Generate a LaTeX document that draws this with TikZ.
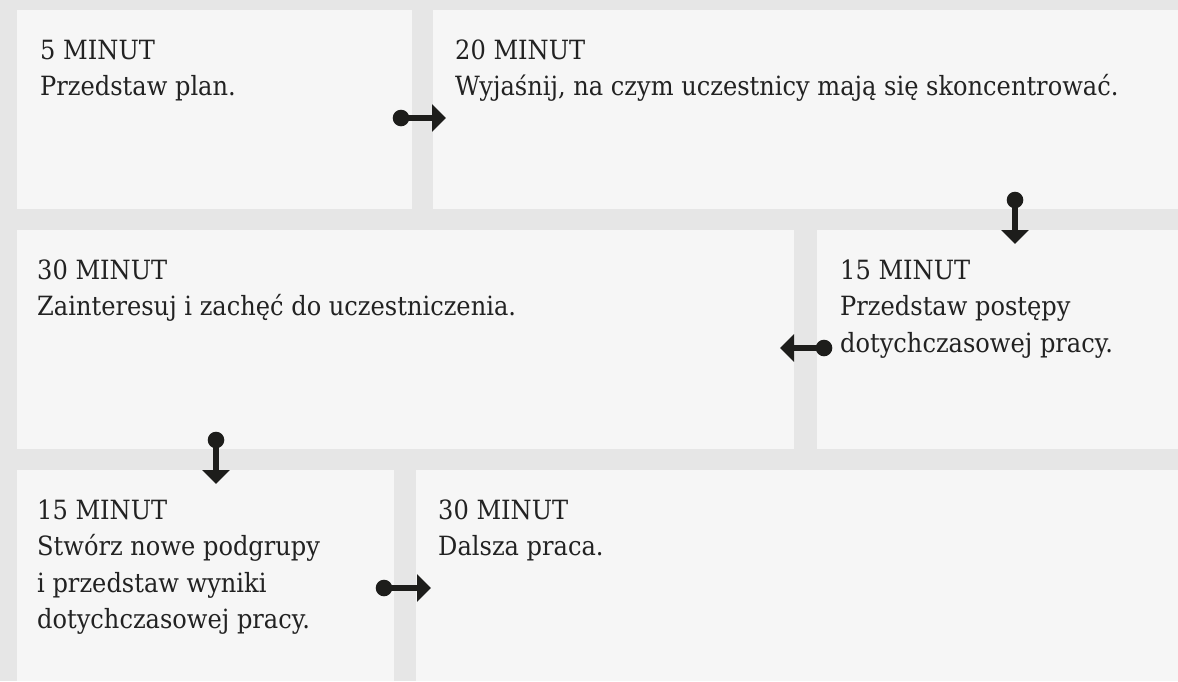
\documentclass[tikz,border=0pt]{standalone}
\usepackage{fontspec}
\setmainfont[FakeStretch=0.91]{DejaVu Serif}
\usetikzlibrary{arrows.meta}
\definecolor{bggray}{HTML}{E6E6E6}
\definecolor{boxfill}{HTML}{F6F6F6}
\definecolor{ink}{HTML}{1D1D1B}
\definecolor{textc}{HTML}{222222}
\begin{document}
\begin{tikzpicture}[x=1pt,y=-1pt,
  panel/.style={fill=boxfill, draw=none, inner sep=0pt, outer sep=0pt, anchor=north west},
  % multi-line labels sit on the baseline of their last line
  label/.style={anchor=base west, inner sep=0pt, align=left, text=textc,
                font=\fontsize{26.5}{36.5}\selectfont},
  flow/.style={draw=ink, line width=6pt, -{Triangle[length=14pt,width=27pt]}},
  dot/.style={fill=ink, radius=8.3pt}]

% canvas
\useasboundingbox (0,0) rectangle (1178,681);
\fill[bggray] (0,0) rectangle (1178,681);

% panels
\node[panel, minimum width=395pt, minimum height=199pt] (pA) at (17,10) {};
\node[panel, minimum width=745pt, minimum height=199pt] (pB) at (433,10) {};
\node[panel, minimum width=777pt, minimum height=219pt] (pC) at (17,230) {};
\node[panel, minimum width=361pt, minimum height=219pt] (pD) at (817,230) {};
\node[panel, minimum width=377pt, minimum height=211pt] (pE) at (17,470) {};
\node[panel, minimum width=762pt, minimum height=211pt] (pF) at (416,470) {};

% texts
\node[label] (tA) at (40,95.5) {5 MINUT\\Przedstaw plan.};
\node[label] (tB) at (455,95.5) {20 MINUT\\Wyjaśnij, na czym uczestnicy mają się skoncentrować.};
\node[label] (tC) at (37,315.5) {30 MINUT\\Zainteresuj i zachęć do uczestniczenia.};
\node[label] (tD) at (840,352) {15 MINUT\\Przedstaw postępy\\dotychczasowej pracy.};
\node[label] (tE) at (37,628.5) {15 MINUT\\Stwórz nowe podgrupy\\i przedstaw wyniki\\dotychczasowej pracy.};
\node[label] (tF) at (438,555.5) {30 MINUT\\Dalsza praca.};

% connector ends
\coordinate (sAB) at (401,118);  \coordinate (eAB) at (446,118);
\coordinate (sBD) at (1015,200); \coordinate (eBD) at (1015,244);
\coordinate (sDC) at (824,348);  \coordinate (eDC) at (780,348);
\coordinate (sCE) at (216,440);  \coordinate (eCE) at (216,484);
\coordinate (sEF) at (384,588);  \coordinate (eEF) at (431,588);

% connectors
\foreach \s/\e in {sAB/eAB, sBD/eBD, sDC/eDC, sCE/eCE, sEF/eEF}{
  \draw[flow] (\s) -- (\e);
  \fill[dot] (\s) circle;
}
\end{tikzpicture}
\end{document}
